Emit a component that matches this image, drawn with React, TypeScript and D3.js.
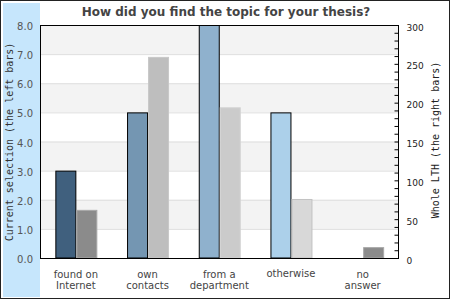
import React from "react";
import * as d3 from "d3";

const categories = ["found on|Internet", "own|contacts", "from a|department", "otherwise", "no|answer"];
const currentValues = [3, 5, 8, 5, 0];
const wholeValues = [62, 259, 194, 76, 14];
const leftTicks = [0, 1, 2, 3, 4, 5, 6, 7, 8];
const rightTicks = [0, 50, 100, 150, 200, 250, 300];
const leftColors = ["#40607e", "#7496b2", "#8fb1cd", "#acd0ea", "#c5def0"];
const rightColors = ["#8b8b8b", "#bebebe", "#cbcbcb", "#d8d8d8", "#8b8b8b"];
const rightStrokes = ["#a8a8a8", "#c8c8c8", "#d2d2d2", "#c2c2c2", "#a8a8a8"];
const title = "How did you find the topic for your thesis?";
const leftTitle = "Current selection (the left bars)";
const rightTitle = "Whole LTH (the right bars)";

export default function App() {
  const W = 450, H = 300;
  const left = 40, right = 398.5, top = 25, bottom = 258;
  const x = d3.scaleBand<string>().domain(categories).range([left, right]).padding(0);
  const yL = d3.scaleLinear().domain([0, 8]).range([bottom, top]);
  const yR = d3.scaleLinear().domain([0, 300]).range([bottom, top]);
  const bw = 21;
  const minor = d3.range(0, 301, 10);
  const bands = leftTicks.slice(0, -1).filter((t) => t % 2 === 1);

  return (
    <svg width={W} height={H} style={{ position: "absolute", left: 0, top: 0 }} fontFamily="DejaVu Sans">
      <rect x={0} y={0} width={W} height={H} fill="#fff" />
      <rect x={3} y={3} width={37} height={294} fill="#c6e6fc" />
      <rect x={0.5} y={0.5} width={449} height={298} fill="none" stroke="#222" strokeWidth={1} />
      {bands.map((t) => (
        <rect key={"b" + t} x={left} y={yL(t + 1)} width={right - left} height={yL(t) - yL(t + 1)} fill="#f3f3f3" />
      ))}
      {leftTicks.map((t) => (
        <line key={"g" + t} x1={left} x2={right} y1={yL(t) + 0.5} y2={yL(t) + 0.5} stroke="#dedede" />
      ))}
      {categories.map((c, i) => {
        const cx = x(c)! + x.bandwidth() / 2 + 0.5;
        const v = currentValues[i];
        const r = wholeValues[i];
        return (
          <g key={c}>
            {v > 0 && (
              <rect x={cx - bw + 0.5} y={yL(v) + 0.5} width={bw - 1} height={yL(0) - yL(v) - 0.5} fill={leftColors[i]} stroke="#000" strokeWidth={1} />
            )}
            {r > 0 && (
              <rect x={cx + 0.5} y={yR(r) + 0.5} width={bw - 1} height={yR(0) - yR(r) - 0.5} fill={rightColors[i]} stroke={rightStrokes[i]} strokeWidth={1} />
            )}
          </g>
        );
      })}
      <rect x={left + 0.5} y={top + 0.5} width={right - left - 0.5} height={bottom - top} fill="none" stroke="#000" strokeWidth={1} />
      {minor.map((t) => (
        <line key={"m" + t} x1={right - 4} x2={right} y1={yR(t) + 0.5} y2={yR(t) + 0.5} stroke="#000" />
      ))}
      {leftTicks.map((t) => (
        <text key={"l" + t} x={33} y={yL(t) + 5} textAnchor="end" fontSize={10} fill="#555">
          {t.toFixed(1)}
        </text>
      ))}
      {rightTicks.map((t) => (
        <text key={"r" + t} x={406.5} y={yR(t) + 5.5} fontSize={9} fill="#222">
          {t}
        </text>
      ))}
      {categories.map((c) => {
        const lines = c.split("|");
        const cx = x(c)! + x.bandwidth() / 2;
        return (
          <text key={"c" + c} textAnchor="middle" fontSize={10} fill="#444">
            {lines.map((l, j) => (
              <tspan key={j} x={cx} y={(lines.length === 1 ? 276.5 : 278) + j * 11}>
                {l}
              </tspan>
            ))}
          </text>
        );
      })}
      <text x={226} y={16} textAnchor="middle" fontSize={12} fontWeight="bold" fill="#444">
        {title}
      </text>
      <text transform="translate(12.5,142) rotate(-90)" textAnchor="middle" fontSize={10} fontFamily="DejaVu Sans Mono" fill="#333">
        {leftTitle}
      </text>
      <text transform="translate(439,140) rotate(-90)" textAnchor="middle" fontSize={10} fontFamily="DejaVu Sans Mono" fill="#222">
        {rightTitle}
      </text>
    </svg>
  );
}
